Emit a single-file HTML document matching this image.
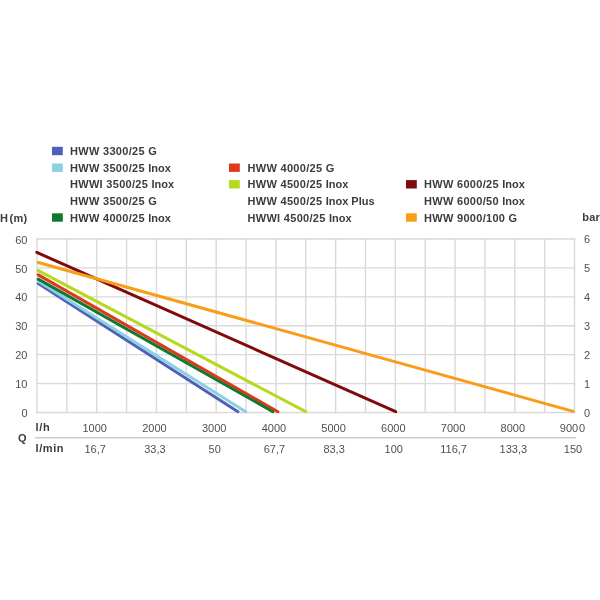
<!DOCTYPE html>
<html><head><meta charset="utf-8"><title>HWW</title>
<style>
html,body{margin:0;padding:0;background:#fff;}
svg{display:block;will-change:transform;}
text{font-family:"Liberation Sans",sans-serif;fill:#505050;}
.b{font-weight:bold;fill:#3c3c3c;letter-spacing:0.3px;}
</style></head><body>
<svg width="600" height="600" viewBox="0 0 600 600">
<rect width="600" height="600" fill="#fff"/>

<g stroke="#d9d9d9" stroke-width="1.4" fill="none"><line x1="37.00" y1="238.30" x2="37.00" y2="413.20"/><line x1="66.86" y1="238.30" x2="66.86" y2="413.20"/><line x1="96.72" y1="238.30" x2="96.72" y2="413.20"/><line x1="126.58" y1="238.30" x2="126.58" y2="413.20"/><line x1="156.44" y1="238.30" x2="156.44" y2="413.20"/><line x1="186.31" y1="238.30" x2="186.31" y2="413.20"/><line x1="216.17" y1="238.30" x2="216.17" y2="413.20"/><line x1="246.03" y1="238.30" x2="246.03" y2="413.20"/><line x1="275.89" y1="238.30" x2="275.89" y2="413.20"/><line x1="305.75" y1="238.30" x2="305.75" y2="413.20"/><line x1="335.61" y1="238.30" x2="335.61" y2="413.20"/><line x1="365.47" y1="238.30" x2="365.47" y2="413.20"/><line x1="395.33" y1="238.30" x2="395.33" y2="413.20"/><line x1="425.19" y1="238.30" x2="425.19" y2="413.20"/><line x1="455.06" y1="238.30" x2="455.06" y2="413.20"/><line x1="484.92" y1="238.30" x2="484.92" y2="413.20"/><line x1="514.78" y1="238.30" x2="514.78" y2="413.20"/><line x1="544.64" y1="238.30" x2="544.64" y2="413.20"/><line x1="574.50" y1="238.30" x2="574.50" y2="413.20"/><line x1="36.30" y1="412.50" x2="575.20" y2="412.50"/><line x1="36.30" y1="383.58" x2="575.20" y2="383.58"/><line x1="36.30" y1="354.67" x2="575.20" y2="354.67"/><line x1="36.30" y1="325.75" x2="575.20" y2="325.75"/><line x1="36.30" y1="296.83" x2="575.20" y2="296.83"/><line x1="36.30" y1="267.92" x2="575.20" y2="267.92"/><line x1="36.30" y1="239.00" x2="575.20" y2="239.00"/></g>
<line x1="35" y1="437.8" x2="576" y2="437.8" stroke="#cccccc" stroke-width="1.4"/>
<line x1="36.80" y1="252.41" x2="395.70" y2="411.70" stroke="#800a0c" stroke-width="3.0" stroke-linecap="round"/>
<line x1="38.30" y1="262.46" x2="573.20" y2="411.40" stroke="#f79d16" stroke-width="3.0" stroke-linecap="round"/>
<line x1="38.30" y1="270.59" x2="305.70" y2="411.70" stroke="#b5d91c" stroke-width="3.0" stroke-linecap="round"/>
<line x1="38.30" y1="283.53" x2="238.00" y2="411.70" stroke="#4f60b6" stroke-width="3.0" stroke-linecap="round"/>
<line x1="38.30" y1="281.22" x2="245.70" y2="411.70" stroke="#8bd1e3" stroke-width="3.0" stroke-linecap="round"/>
<line x1="38.30" y1="274.84" x2="277.90" y2="411.70" stroke="#dd3a1c" stroke-width="3.0" stroke-linecap="round"/>
<line x1="38.30" y1="279.13" x2="272.90" y2="411.70" stroke="#11792f" stroke-width="3.0" stroke-linecap="round"/>
<rect x="52.0" y="146.8" width="10.8" height="8.4" fill="#4f60b6"/>
<text class="b" x="70.0" y="155.1" font-size="11">HWW 3300/25 G</text>
<rect x="52.0" y="163.5" width="10.8" height="8.4" fill="#8bd1e3"/>
<text class="b" x="70.0" y="171.8" font-size="11">HWW 3500/25 <tspan letter-spacing="0">Inox</tspan></text>
<text class="b" x="70.0" y="188.4" font-size="11">HWWI 3500/25 <tspan letter-spacing="0">Inox</tspan></text>
<text class="b" x="70.0" y="205.0" font-size="11">HWW 3500/25 G</text>
<rect x="52.0" y="213.3" width="10.8" height="8.4" fill="#11792f"/>
<text class="b" x="70.0" y="221.7" font-size="11">HWW 4000/25 <tspan letter-spacing="0">Inox</tspan></text>
<rect x="229.0" y="163.5" width="10.8" height="8.4" fill="#dd3a1c"/>
<text class="b" x="247.5" y="171.8" font-size="11">HWW 4000/25 G</text>
<rect x="229.0" y="180.1" width="10.8" height="8.4" fill="#b5d91c"/>
<text class="b" x="247.5" y="188.4" font-size="11">HWW 4500/25 <tspan letter-spacing="0">Inox</tspan></text>
<text class="b" x="247.5" y="205.0" font-size="11">HWW 4500/25 <tspan letter-spacing="0">Inox Plus</tspan></text>
<text class="b" x="247.5" y="221.7" font-size="11">HWWI 4500/25 <tspan letter-spacing="0">Inox</tspan></text>
<rect x="406.0" y="180.1" width="10.8" height="8.4" fill="#800a0c"/>
<text class="b" x="424.0" y="188.4" font-size="11">HWW 6000/25 <tspan letter-spacing="0">Inox</tspan></text>
<text class="b" x="424.0" y="205.0" font-size="11">HWW 6000/50 <tspan letter-spacing="0">Inox</tspan></text>
<rect x="406.0" y="213.3" width="10.8" height="8.4" fill="#f79d16"/>
<text class="b" x="424.0" y="221.7" font-size="11">HWW 9000/100 G</text>
<text class="b" x="0" y="222" font-size="11">H<tspan dx="1.2">(m)</tspan></text>
<text class="b" x="582.2" y="221.4" font-size="11">bar</text>
<text class="b" x="18" y="441.5" font-size="11">Q</text>
<text class="b" x="35.5" y="431.1" font-size="11" style="letter-spacing:0.7px">l/h</text>
<text class="b" x="35.5" y="452.4" font-size="11" style="letter-spacing:0.6px">l/min</text>
<text x="27.5" y="417.1" font-size="11" text-anchor="end">0</text>
<text x="584" y="416.5" font-size="11">0</text>
<text x="27.5" y="388.2" font-size="11" text-anchor="end">10</text>
<text x="584" y="387.6" font-size="11">1</text>
<text x="27.5" y="359.3" font-size="11" text-anchor="end">20</text>
<text x="584" y="358.7" font-size="11">2</text>
<text x="27.5" y="330.4" font-size="11" text-anchor="end">30</text>
<text x="584" y="329.8" font-size="11">3</text>
<text x="27.5" y="301.4" font-size="11" text-anchor="end">40</text>
<text x="584" y="300.8" font-size="11">4</text>
<text x="27.5" y="272.5" font-size="11" text-anchor="end">50</text>
<text x="584" y="271.9" font-size="11">5</text>
<text x="27.5" y="243.6" font-size="11" text-anchor="end">60</text>
<text x="584" y="243.0" font-size="11">6</text>
<text x="94.7" y="431.6" font-size="11" text-anchor="middle">1000</text>
<text x="95.2" y="452.7" font-size="11" text-anchor="middle">16,7</text>
<text x="154.4" y="431.6" font-size="11" text-anchor="middle">2000</text>
<text x="154.9" y="452.7" font-size="11" text-anchor="middle">33,3</text>
<text x="214.2" y="431.6" font-size="11" text-anchor="middle">3000</text>
<text x="214.7" y="452.7" font-size="11" text-anchor="middle">50</text>
<text x="273.9" y="431.6" font-size="11" text-anchor="middle">4000</text>
<text x="274.4" y="452.7" font-size="11" text-anchor="middle">67,7</text>
<text x="333.6" y="431.6" font-size="11" text-anchor="middle">5000</text>
<text x="334.1" y="452.7" font-size="11" text-anchor="middle">83,3</text>
<text x="393.3" y="431.6" font-size="11" text-anchor="middle">6000</text>
<text x="393.8" y="452.7" font-size="11" text-anchor="middle">100</text>
<text x="453.1" y="431.6" font-size="11" text-anchor="middle">7000</text>
<text x="453.6" y="452.7" font-size="11" text-anchor="middle">116,7</text>
<text x="512.8" y="431.6" font-size="11" text-anchor="middle">8000</text>
<text x="513.3" y="452.7" font-size="11" text-anchor="middle">133,3</text>
<text x="572.5" y="431.6" font-size="11" text-anchor="middle">900<tspan dx="0.9">0</tspan></text>
<text x="573.0" y="452.7" font-size="11" text-anchor="middle">150</text>
</svg></body></html>
